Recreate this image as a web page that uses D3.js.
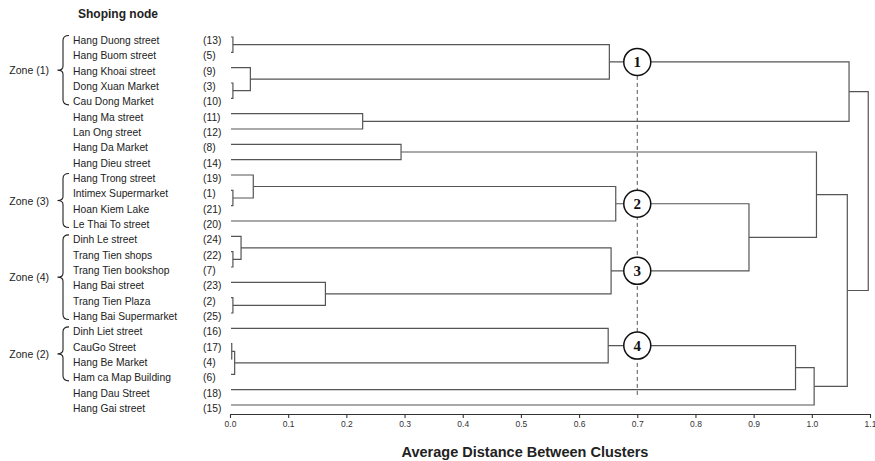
<!DOCTYPE html>
<html>
<head>
<meta charset="utf-8">
<script src="https://cdn.jsdelivr.net/npm/d3@7"></script>
<style>
  html, body { margin: 0; padding: 0; background: #ffffff; }
  svg { display: block; font-family: "Liberation Sans", Arial, sans-serif; }
</style>
</head>
<body>
<div id="chart"></div>
<script>
const nodeNames = [
  "Hang Duong street", "Hang Buom street", "Hang Khoai street", "Dong Xuan Market",
  "Cau Dong Market", "Hang Ma street", "Lan Ong street", "Hang Da Market",
  "Hang Dieu street", "Hang Trong street", "Intimex Supermarket", "Hoan Kiem Lake",
  "Le Thai To street", "Dinh Le street", "Trang Tien shops", "Trang Tien bookshop",
  "Hang Bai street", "Trang Tien Plaza", "Hang Bai Supermarket", "Dinh Liet street",
  "CauGo Street", "Hang Be Market", "Ham ca Map Building", "Hang Dau Street",
  "Hang Gai street",
];
const nodeIds = [13, 5, 9, 3, 10, 11, 12, 8, 14, 19, 1, 21, 20, 24, 22, 7, 23, 2, 25, 16, 17, 4, 6, 18, 15];

// hclust style merges: negative = leaf (1-based row), positive = earlier merge (1-based)
const mergeLeft = [-1, -4, -3, 1, -6, 4, -8, -11, -10, 9, -15, -14, -18, -17, 12, 10, 7, -21, 18, -20, 20, 21, 17, 6];
const mergeRight = [-2, -5, 2, 3, -7, 5, -9, -12, 8, -13, -16, 11, -19, 13, 14, 15, 16, -22, -23, 19, -24, -25, 22, 23];
const mergeHeight = [
  0.005, 0.005, 0.035, 0.652, 0.228, 1.064, 0.294, 0.005, 0.04, 0.663, 0.005, 0.019,
  0.005, 0.164, 0.655, 0.892, 1.008, 0.003, 0.008, 0.65, 0.972, 1.004, 1.061, 1.097,
];

const zoneNames = ["Zone (1)", "Zone (3)", "Zone (4)", "Zone (2)"];
const zoneFirst = [0, 9, 13, 19];
const zoneLast = [4, 12, 18, 22];

const clusterMerges = [4, 10, 15, 20];
const clusterLabels = ["1", "2", "3", "4"];
const cutHeight = 0.7;

const tickValues = [0, 0.1, 0.2, 0.3, 0.4, 0.5, 0.6, 0.7, 0.8, 0.9, 1.0, 1.1];

const width = 875;
const height = 461;
const lineColor = "#555555";

const svg = d3
  .select("#chart")
  .append("svg")
  .attr("width", width)
  .attr("height", height);

const x = d3.scaleLinear().domain([0, 1.1]).range([230, 870]);
const y = d3.scalePoint().domain(d3.range(nodeNames.length)).range([37, 405]);

// resolve merge positions
const mergeY = [];
const refY = (r) => (r < 0 ? y(-r - 1) : mergeY[r - 1]);
const refH = (r) => (r < 0 ? 0 : mergeHeight[r - 1]);

mergeHeight.forEach((h, i) => {
  mergeY.push((refY(mergeLeft[i]) + refY(mergeRight[i])) / 2);
});

const linkPath = (i) => {
  const h = mergeHeight[i];
  const l = mergeLeft[i];
  const r = mergeRight[i];
  const x0l = l < 0 ? x(0) + 1 : x(refH(l));
  const x0r = r < 0 ? x(0) + 1 : x(refH(r));

  return `M${x0l},${refY(l)}H${x(h)}V${refY(r)}H${x0r}`;
};

const tree = svg.append("g").attr("class", "dendrogram");

tree
  .selectAll(".link")
  .data(mergeHeight.map((h, i) => i))
  .enter()
  .append("path")
  .attr("class", "link")
  .attr("d", (i) => linkPath(i))
  .attr("fill", "none")
  .attr("stroke", lineColor)
  .attr("stroke-width", 1.2);

// cut line at 0.7
const clusterY = clusterMerges.map((m) => mergeY[m - 1]);

svg
  .append("line")
  .attr("x1", x(cutHeight))
  .attr("x2", x(cutHeight))
  .attr("y1", d3.min(clusterY))
  .attr("y2", 398)
  .attr("stroke", "#555555")
  .attr("stroke-width", 1)
  .attr("stroke-dasharray", "4,3");

const circles = svg
  .selectAll(".cluster")
  .data(clusterLabels)
  .enter()
  .append("g")
  .attr("class", "cluster")
  .attr("transform", (d, i) => `translate(${x(cutHeight)}, ${clusterY[i]})`);

circles
  .append("circle")
  .attr("r", 13.5)
  .attr("fill", "#ffffff")
  .attr("stroke", "#111111")
  .attr("stroke-width", 1.5);

circles
  .append("text")
  .attr("text-anchor", "middle")
  .attr("dy", "0.35em")
  .style("font-family", "'Liberation Serif', 'Times New Roman', serif")
  .style("font-weight", "bold")
  .style("font-size", "15px")
  .attr("fill", "#111111")
  .text((d) => d);

// leaf labels
const labels = svg.append("g").attr("class", "labels");

labels
  .selectAll(".node-name")
  .data(nodeNames)
  .enter()
  .append("text")
  .attr("class", "node-name")
  .attr("x", 73)
  .attr("y", (d, i) => y(i) + 3.5)
  .attr("dy", "0.35em")
  .style("font-size", "10.3px")
  .attr("fill", "#222222")
  .text((d) => d);

labels
  .selectAll(".node-id")
  .data(nodeIds)
  .enter()
  .append("text")
  .attr("class", "node-id")
  .attr("x", 203)
  .attr("y", (d, i) => y(i) + 3.5)
  .attr("dy", "0.35em")
  .style("font-size", "10.3px")
  .attr("fill", "#222222")
  .text((d) => `(${d})`);

svg
  .append("text")
  .attr("x", 78)
  .attr("y", 17.5)
  .style("font-size", "12px")
  .style("font-weight", "bold")
  .attr("fill", "#222222")
  .text("Shoping node");

// zone braces
const bracePath = (top, bottom) => {
  const mid = (top + bottom) / 2;
  const xr = 69;
  const xm = 63;
  const xt = 57.5;

  return `M${xr},${top}Q${xm},${top} ${xm},${top + 5}V${mid - 4}Q${xm},${mid} ${xt},${mid}`
    + `Q${xm},${mid} ${xm},${mid + 4}V${bottom - 5}Q${xm},${bottom} ${xr},${bottom}`;
};

const zones = svg
  .selectAll(".zone")
  .data(zoneNames)
  .enter()
  .append("g")
  .attr("class", "zone");

zones
  .append("path")
  .attr("d", (d, i) => bracePath(y(zoneFirst[i]) - 1.5, y(zoneLast[i]) + 6.5))
  .attr("fill", "none")
  .attr("stroke", "#222222")
  .attr("stroke-width", 1.1);

zones
  .append("text")
  .attr("x", 49)
  .attr("y", (d, i) => (y(zoneFirst[i]) + y(zoneLast[i])) / 2 + 3)
  .attr("dy", "0.35em")
  .attr("text-anchor", "end")
  .style("font-size", "10.5px")
  .attr("fill", "#222222")
  .text((d) => d);

// axis
const axis = svg
  .append("g")
  .attr("class", "x-axis")
  .attr("transform", "translate(0, 414)")
  .call(
    d3
      .axisBottom(x)
      .tickValues(tickValues)
      .tickFormat(d3.format(".1f"))
      .tickSize(4)
      .tickSizeOuter(0)
      .tickPadding(3),
  );

axis.select(".domain").attr("stroke", "#333333").attr("stroke-width", 1.1);
axis.selectAll(".tick line").attr("stroke", "#333333").attr("stroke-width", 1.1);
axis
  .selectAll(".tick text")
  .style("font-size", "8.5px")
  .style("font-family", "'Liberation Sans', Arial, sans-serif")
  .attr("fill", "#333333");

svg
  .append("text")
  .attr("x", 525)
  .attr("y", 456.5)
  .attr("text-anchor", "middle")
  .style("font-size", "14.5px")
  .style("font-weight", "bold")
  .attr("fill", "#222222")
  .text("Average Distance Between Clusters");
</script>
</body>
</html>
